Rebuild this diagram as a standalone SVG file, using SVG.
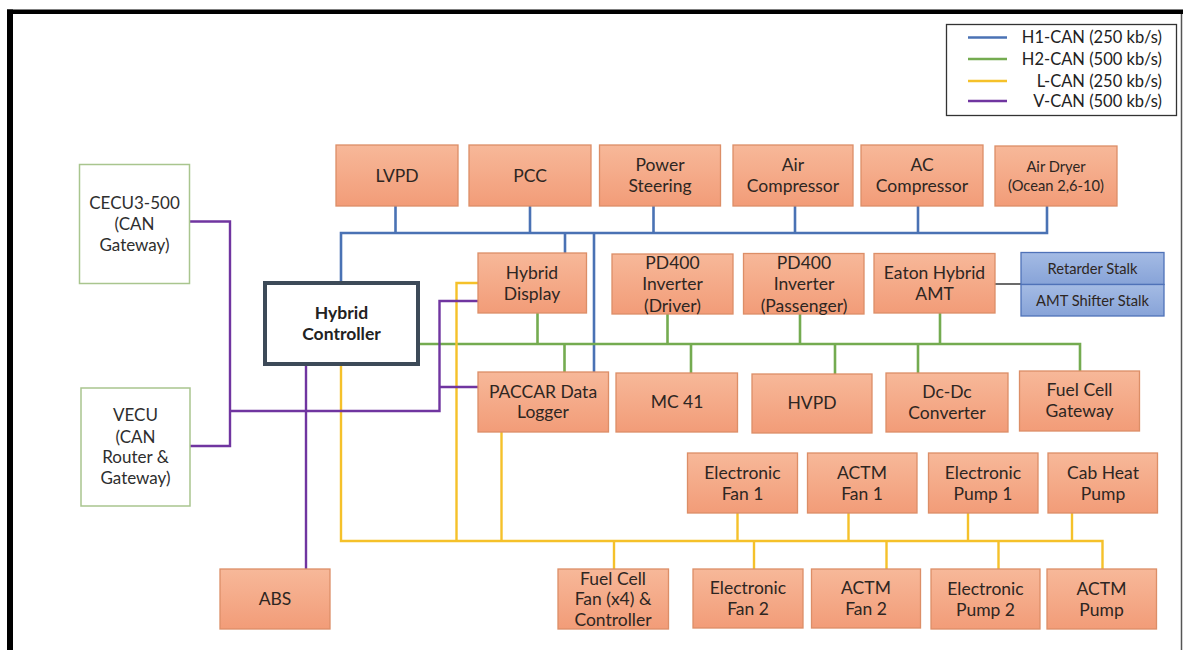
<svg xmlns="http://www.w3.org/2000/svg" width="1183" height="650" viewBox="0 0 1183 650">
<defs>
<linearGradient id="og" x1="0" y1="0" x2="0" y2="1">
<stop offset="0" stop-color="#f7b899"/>
<stop offset="1" stop-color="#f29c78"/>
</linearGradient>
<linearGradient id="bg" x1="0" y1="0" x2="0" y2="1">
<stop offset="0" stop-color="#a4bbe4"/>
<stop offset="1" stop-color="#87a3d8"/>
</linearGradient>
<style>
.o{fill:url(#og);stroke:#dc8e67;stroke-width:1.3}
.b{fill:url(#bg);stroke:#4f72b8;stroke-width:1.3}
.w{fill:#ffffff;stroke:#a9c58e;stroke-width:1.5}
.t{font-family:Lato,"Liberation Sans",sans-serif;font-size:17.5px;fill:#2e2622;text-anchor:middle}
.tg{font-family:Lato,"Liberation Sans",sans-serif;font-size:17px;fill:#2e2e2e;text-anchor:middle}
.ts{font-family:Lato,"Liberation Sans",sans-serif;font-size:14.7px;fill:#2e2622;text-anchor:middle}
.tb{font-family:Lato,"Liberation Sans",sans-serif;font-size:17.5px;font-weight:bold;fill:#222;text-anchor:middle}
.lg{font-family:Lato,"Liberation Sans",sans-serif;font-size:16.5px;fill:#222;text-anchor:end}
.h1{stroke:#4a72b4;stroke-width:2.6;fill:none}
.h2{stroke:#74ab50;stroke-width:2.6;fill:none}
.l{stroke:#f5c12a;stroke-width:2.4;fill:none}
.v{stroke:#7035a0;stroke-width:2.4;fill:none}
</style>
</defs>
<rect x="0" y="0" width="1183" height="650" fill="#ffffff"/>
<g id="frame">
<line x1="7" y1="11.8" x2="1183" y2="11.8" stroke="#000" stroke-width="4.6"/>
<line x1="10" y1="9.5" x2="10" y2="650" stroke="#000" stroke-width="6"/>
<line x1="1181.5" y1="14" x2="1181.5" y2="650" stroke="#555" stroke-width="1.5"/>
</g>
<g id="legend">
<rect x="946.5" y="24.5" width="230" height="91" fill="#fff" stroke="#333" stroke-width="1.3"/>
<line class="h1" x1="968" y1="37.5" x2="1007" y2="37.5"/>
<line class="h2" x1="968" y1="59" x2="1007" y2="59"/>
<line class="l" x1="968" y1="81" x2="1007" y2="81"/>
<line class="v" x1="968" y1="101" x2="1007" y2="101"/>
<text class="lg" x="1162" y="43">H1-CAN (250 kb/s)</text>
<text class="lg" x="1162" y="65">H2-CAN (500 kb/s)</text>
<text class="lg" x="1162" y="87">L-CAN (250 kb/s)</text>
<text class="lg" x="1162" y="106.5">V-CAN (500 kb/s)</text>
</g>
<g id="connectors">
<!-- H1-CAN -->
<polyline class="h1" points="341,283 341,233 1047,233 1047,206"/>
<line class="h1" x1="395.5" y1="206" x2="395.5" y2="233"/>
<line class="h1" x1="530" y1="206" x2="530" y2="233"/>
<line class="h1" x1="653.5" y1="206" x2="653.5" y2="233"/>
<line class="h1" x1="795" y1="206" x2="795" y2="233"/>
<line class="h1" x1="918" y1="206" x2="918" y2="233"/>
<line class="h1" x1="565" y1="233" x2="565" y2="253"/>
<line class="h1" x1="594" y1="233" x2="594" y2="372"/>
<!-- H2-CAN -->
<polyline class="h2" points="418,344 1080,344 1080,371"/>
<line class="h2" x1="537.5" y1="313" x2="537.5" y2="344"/>
<line class="h2" x1="667.5" y1="314" x2="667.5" y2="344"/>
<line class="h2" x1="800" y1="314" x2="800" y2="344"/>
<line class="h2" x1="940" y1="313" x2="940" y2="344"/>
<line class="h2" x1="564.5" y1="344" x2="564.5" y2="372"/>
<line class="h2" x1="691" y1="344" x2="691" y2="373"/>
<line class="h2" x1="835" y1="344" x2="835" y2="374"/>
<line class="h2" x1="918" y1="344" x2="918" y2="373"/>
<!-- L-CAN -->
<polyline class="l" points="341,364 341,541 1102.5,541 1102.5,569"/>
<polyline class="l" points="478,283 456.5,283 456.5,541"/>
<line class="l" x1="501.5" y1="432" x2="501.5" y2="541"/>
<line class="l" x1="737.5" y1="513" x2="737.5" y2="541"/>
<line class="l" x1="848.5" y1="513" x2="848.5" y2="541"/>
<line class="l" x1="968" y1="513" x2="968" y2="541"/>
<line class="l" x1="1072" y1="513" x2="1072" y2="541"/>
<line class="l" x1="614" y1="541" x2="614" y2="569"/>
<line class="l" x1="754" y1="541" x2="754" y2="569"/>
<line class="l" x1="886.5" y1="541" x2="886.5" y2="569"/>
<line class="l" x1="998.5" y1="541" x2="998.5" y2="569"/>
<!-- V-CAN -->
<polyline class="v" points="189,221.5 230,221.5 230,446 190,446"/>
<polyline class="v" points="230,411 439.5,411 439.5,301 478,301"/>
<line class="v" x1="439.5" y1="387" x2="478" y2="387"/>
<line class="v" x1="306" y1="364" x2="306" y2="569"/>
<!-- stalk link -->
<line x1="995" y1="284" x2="1021" y2="284" stroke="#3a3a3a" stroke-width="1.5"/>
</g>
<g id="n-cecu"><rect class="w" x="79.5" y="164.5" width="110" height="119"/>
<text class="tg" x="134.5" y="209">CECU3-500</text><text class="tg" x="134.5" y="229.5">(CAN</text><text class="tg" x="134.5" y="250.5">Gateway)</text></g>
<g id="n-vecu"><rect class="w" x="81" y="388" width="109" height="118"/>
<text class="tg" x="135.5" y="421">VECU</text><text class="tg" x="135.5" y="443">(CAN</text><text class="tg" x="135.5" y="463">Router &amp;</text><text class="tg" x="135.5" y="483.5">Gateway)</text></g>
<g id="n-hc"><rect x="265" y="283" width="153" height="81" fill="#fff" stroke="#3d4a58" stroke-width="4"/>
<text class="tb" x="341.5" y="319">Hybrid</text><text class="tb" x="341.5" y="340">Controller</text></g>
<g id="n-abs"><rect class="o" x="220" y="569" width="110" height="60"/><text class="t" x="275" y="605">ABS</text></g>
<g id="n-lvpd"><rect class="o" x="336" y="145" width="122" height="61"/><text class="t" x="397" y="181.5">LVPD</text></g>
<g id="n-pcc"><rect class="o" x="469" y="145" width="122" height="61"/><text class="t" x="530" y="181.5">PCC</text></g>
<g id="n-ps"><rect class="o" x="599.5" y="145" width="121" height="61"/><text class="t" x="660" y="171">Power</text><text class="t" x="660" y="191.5">Steering</text></g>
<g id="n-aircomp"><rect class="o" x="733" y="145" width="120" height="61"/><text class="t" x="793" y="171">Air</text><text class="t" x="793" y="191.5">Compressor</text></g>
<g id="n-accomp"><rect class="o" x="861" y="145" width="122" height="61"/><text class="t" x="922" y="171">AC</text><text class="t" x="922" y="191.5">Compressor</text></g>
<g id="n-airdryer"><rect class="o" x="995" y="146" width="122" height="60"/><text class="ts" x="1056" y="172">Air Dryer</text><text class="ts" x="1056" y="190.5">(Ocean 2,6-10)</text></g>
<g id="n-hd"><rect class="o" x="478" y="253" width="108.5" height="60"/><text class="t" x="532" y="279">Hybrid</text><text class="t" x="532" y="300">Display</text></g>
<g id="n-pd400d"><rect class="o" x="612" y="254" width="121" height="60"/><text class="t" x="672.5" y="268.5">PD400</text><text class="t" x="672.5" y="290">Inverter</text><text class="t" x="672.5" y="311.5">(Driver)</text></g>
<g id="n-pd400p"><rect class="o" x="743.5" y="253.5" width="120.5" height="60.5"/><text class="t" x="804" y="268.5">PD400</text><text class="t" x="804" y="290">Inverter</text><text class="t" x="804" y="311.5">(Passenger)</text></g>
<g id="n-eaton"><rect class="o" x="874" y="253.5" width="121" height="59.5"/><text class="t" x="934.5" y="279">Eaton Hybrid</text><text class="t" x="934.5" y="300">AMT</text></g>
<g id="n-retarder"><rect class="b" x="1021" y="252.5" width="143" height="32"/><text class="ts" x="1092.5" y="273.5">Retarder Stalk</text></g>
<g id="n-amtshifter"><rect class="b" x="1021" y="284.5" width="143" height="31.5"/><text class="ts" x="1092.5" y="305.5">AMT Shifter Stalk</text></g>
<g id="n-paccar"><rect class="o" x="478" y="372" width="130.5" height="60"/><text class="t" x="543" y="397.5">PACCAR Data</text><text class="t" x="543" y="418">Logger</text></g>
<g id="n-mc41"><rect class="o" x="616" y="373" width="121.5" height="59"/><text class="t" x="677" y="408">MC 41</text></g>
<g id="n-hvpd"><rect class="o" x="752" y="374" width="120" height="59"/><text class="t" x="812" y="409">HVPD</text></g>
<g id="n-dcdc"><rect class="o" x="886" y="373" width="122" height="59"/><text class="t" x="947" y="398">Dc-Dc</text><text class="t" x="947" y="418.5">Converter</text></g>
<g id="n-fcgw"><rect class="o" x="1019.5" y="371" width="120" height="60"/><text class="t" x="1079.5" y="396">Fuel Cell</text><text class="t" x="1079.5" y="417">Gateway</text></g>
<g id="n-efan1"><rect class="o" x="687.5" y="453" width="110" height="60"/><text class="t" x="742.5" y="479">Electronic</text><text class="t" x="742.5" y="499.5">Fan 1</text></g>
<g id="n-actmfan1"><rect class="o" x="807.5" y="453" width="109.5" height="60"/><text class="t" x="862" y="479">ACTM</text><text class="t" x="862" y="499.5">Fan 1</text></g>
<g id="n-epump1"><rect class="o" x="928.5" y="453" width="109.5" height="60"/><text class="t" x="983" y="479">Electronic</text><text class="t" x="983" y="499.5">Pump 1</text></g>
<g id="n-cabheat"><rect class="o" x="1048" y="453" width="109.5" height="60"/><text class="t" x="1103" y="479">Cab Heat</text><text class="t" x="1103" y="499.5">Pump</text></g>
<g id="n-fcfan"><rect class="o" x="558" y="569" width="110.5" height="60"/><text class="t" x="613" y="584.5">Fuel Cell</text><text class="t" x="613" y="605">Fan (x4) &amp;</text><text class="t" x="613" y="626">Controller</text></g>
<g id="n-efan2"><rect class="o" x="693" y="569" width="110" height="59"/><text class="t" x="748" y="594">Electronic</text><text class="t" x="748" y="615">Fan 2</text></g>
<g id="n-actmfan2"><rect class="o" x="811.5" y="569" width="109" height="59"/><text class="t" x="866" y="594">ACTM</text><text class="t" x="866" y="615">Fan 2</text></g>
<g id="n-epump2"><rect class="o" x="931" y="569" width="109" height="60"/><text class="t" x="985.5" y="594.5">Electronic</text><text class="t" x="985.5" y="615.5">Pump 2</text></g>
<g id="n-actmpump"><rect class="o" x="1047" y="569" width="109.5" height="60"/><text class="t" x="1101.5" y="594.5">ACTM</text><text class="t" x="1101.5" y="615.5">Pump</text></g>
</svg>
